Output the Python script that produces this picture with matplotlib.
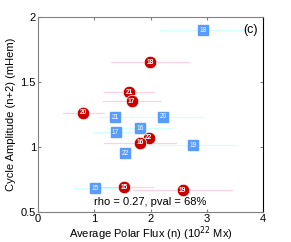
import matplotlib
matplotlib.use("Agg")
import matplotlib.pyplot as plt

plt.rcParams['font.family'] = ['Liberation Sans', 'DejaVu Sans']

# Red circles series
red_cycles = ['18', '21', '17', '20', '22', '16', '15', '19']
red_x = [1.99, 1.62, 1.665, 0.805, 1.97, 1.81, 1.53, 2.57]
red_y = [1.655, 1.424, 1.352, 1.265, 1.072, 1.033, 0.689, 0.668]
red_xlo = [1.30, 1.18, 1.15, 0.44, 1.90, 1.18, 1.00, 1.68]
red_xhi = [2.69, 2.06, 2.17, 1.17, 2.05, 2.46, 2.05, 3.45]

# Blue squares series
blue_cycles = ['18', '21', '20', '16', '17', '19', '22', '15']
blue_x = [2.93, 1.37, 2.22, 1.81, 1.38, 2.75, 1.55, 1.01]
blue_y = [1.90, 1.229, 1.234, 1.147, 1.116, 1.013, 0.954, 0.684]
blue_xlo = [2.16, 1.07, 1.67, 1.25, 0.98, 1.99, 1.55, 0.64]
blue_xhi = [3.70, 1.67, 2.94, 2.38, 1.69, 3.52, 1.55, 1.52]

xticks = [0, 1, 2, 3, 4]
yticks = [0.5, 1, 1.5, 2]
ytick_labels = ['0.5', '1', '1.5', '2']

fig = plt.figure(figsize=(2.91, 2.42), dpi=100)
ax = fig.add_axes([0.1306, 0.124, 0.7732, 0.8045])

red_c = '#c80000'
blue_c = '#5a9bff'
pink = '#ffd0e0'
cyan = '#d4ffff'

for xl, xh, y in zip(red_xlo, red_xhi, red_y):
    ax.plot([xl, xh], [y, y], color=pink, lw=0.9, zorder=1)
for xl, xh, y in zip(blue_xlo, blue_xhi, blue_y):
    ax.plot([xl, xh], [y, y], color=cyan, lw=0.9, zorder=2)

ax.plot(blue_x, blue_y, 's', ms=6.8, mfc=blue_c, mec=blue_c, ls='none', zorder=3)
for x, y, t in zip(blue_x, blue_y, blue_cycles):
    ax.text(x, y, t, color='white', fontsize=4.8, ha='center', va='center', zorder=4)

ax.plot(red_x, red_y, 'o', ms=9, mfc=red_c, mec='white', mew=0.5, ls='none', zorder=5)
for x, y, t in zip(red_x, red_y, red_cycles):
    ax.text(x, y, t, color='white', fontsize=4.8, ha='center', va='center',
            fontweight='bold', zorder=6)

ax.set_xlim(0, 4)
ax.set_ylim(0.5, 2)
ax.set_xticks(xticks)
ax.set_yticks(yticks)
ax.set_yticklabels(ytick_labels)
ax.tick_params(direction='in', length=2.5, top=True, right=True, labelsize=8,
               color='#808080', pad=1.5)
for s in ['left', 'bottom', 'top']:
    ax.spines[s].set_color('#808080')
ax.spines['right'].set_color('black')
for s in ax.spines.values():
    s.set_linewidth(0.8)

ax.set_xlabel('Average Polar Flux (n) (10$^{22}$ Mx)', fontsize=8, labelpad=0)
ax.set_ylabel('Cycle Amplitude (n+2) (mHem)', fontsize=8, labelpad=3)

ax.text(2.0, 0.574, 'rho = 0.27, pval = 68%', fontsize=8, ha='center', va='center')
ax.text(3.77, 1.90, '(c)', fontsize=9, ha='center', va='center')

fig.savefig('out.png', dpi=100)
